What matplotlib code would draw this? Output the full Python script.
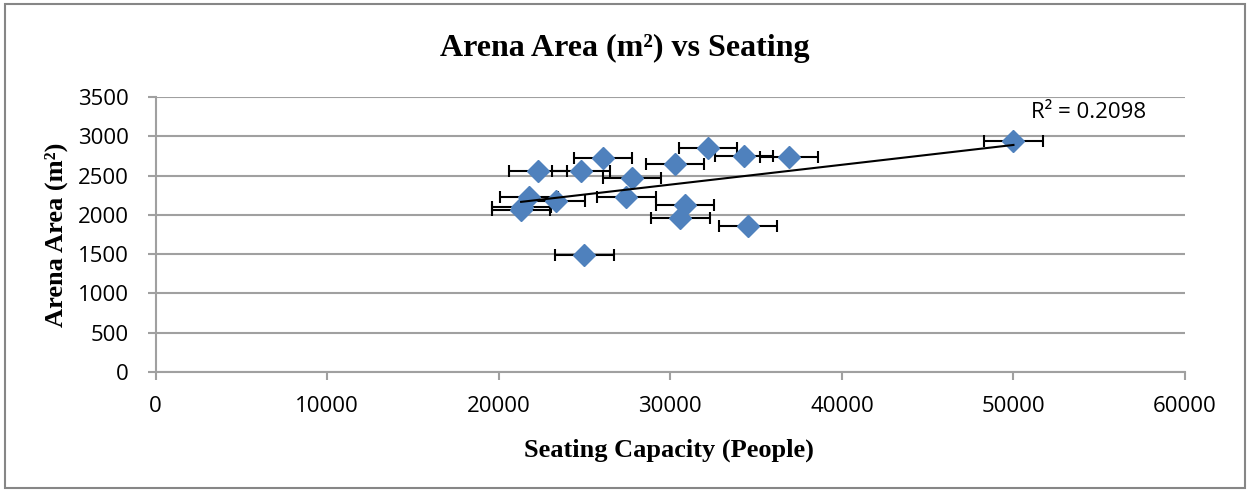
import numpy as np
import matplotlib
matplotlib.use("Agg")
import matplotlib.pyplot as plt
from matplotlib.patches import Rectangle

seating = [22300, 24780, 26080, 27760, 30290, 32200, 34290, 36920, 21750, 23330,
           21330, 21300, 27440, 30840, 30590, 34540, 24990, 50000]
area = [2560, 2560, 2718, 2466, 2642, 2853, 2752, 2736, 2223, 2172,
        2097, 2062, 2227, 2122, 1962, 1861, 1488, 2941]
x_err = [1700] * len(seating)
r2_label = "R² = 0.2098"
x_ticks = [0, 10000, 20000, 30000, 40000, 50000, 60000]
y_ticks = [0, 500, 1000, 1500, 2000, 2500, 3000, 3500]

W, H = 1249, 491
fig = plt.figure(figsize=(W / 100, H / 100), dpi=100)
ax = fig.add_axes([155.7 / W, 1 - 372 / H, (1185 - 155.7) / W, (372 - 97) / H])

# outer border
fig.patches.append(Rectangle((5 / W, 3 / H), (1245 - 5) / W, (487 - 3) / H,
                             transform=fig.transFigure, fill=False,
                             edgecolor="#868686", linewidth=1.5))

grid_c = "#A0A0A0"
ax.set_xlim(0, 60000)
ax.set_ylim(0, 3500)
ax.set_xticks(x_ticks)
ax.set_yticks(y_ticks)
ax.yaxis.grid(True, color=grid_c, linewidth=1.5)
ax.set_axisbelow(True)
for s in ["top", "right"]:
    ax.spines[s].set_visible(False)
for s in ["left", "bottom"]:
    ax.spines[s].set_color(grid_c)
    ax.spines[s].set_linewidth(1.5)
ax.tick_params(axis="both", colors=grid_c, width=1.5, length=5.5, labelcolor="black",
               labelsize=16)
for lab in ax.get_xticklabels() + ax.get_yticklabels():
    lab.set_fontfamily("Open Sans")
ax.tick_params(axis="x", pad=12)
ax.tick_params(axis="y", pad=14)

ax.errorbar(seating, area, xerr=x_err, fmt="none", ecolor="black", elinewidth=1.5,
            capsize=4, capthick=1.5, zorder=3)
ax.plot(seating, area, linestyle="none", marker="D", markersize=11,
        color="#4F81BD", zorder=4)

# linear trend line
xs = np.array(seating, dtype=float)
ys = np.array(area, dtype=float)
m, b = np.polyfit(xs, ys, 1)
xl = np.array([xs.min(), xs.max()])
ax.plot(xl, m * xl + b, color="black", linewidth=1.5, zorder=5)

ax.text(51000, 3233, r2_label, fontsize=16, fontfamily="Open Sans", va="baseline",
        ha="left")

fig.text(0.5, 1 - 56 / H, "Arena Area (m²) vs Seating", ha="center",
         va="baseline", fontsize=23, fontweight="bold", fontfamily="Liberation Serif")
fig.text(669 / W, 1 - 457 / H, "Seating Capacity (People)", ha="center",
         va="baseline", fontsize=19, fontweight="bold", fontfamily="Liberation Serif")
fig.text(56 / W, 1 - 235 / H, "Arena Area (m²)", ha="center", va="center",
         rotation=90, fontsize=19, fontweight="bold", fontfamily="Liberation Serif")

fig.savefig("out.png", dpi=100)
